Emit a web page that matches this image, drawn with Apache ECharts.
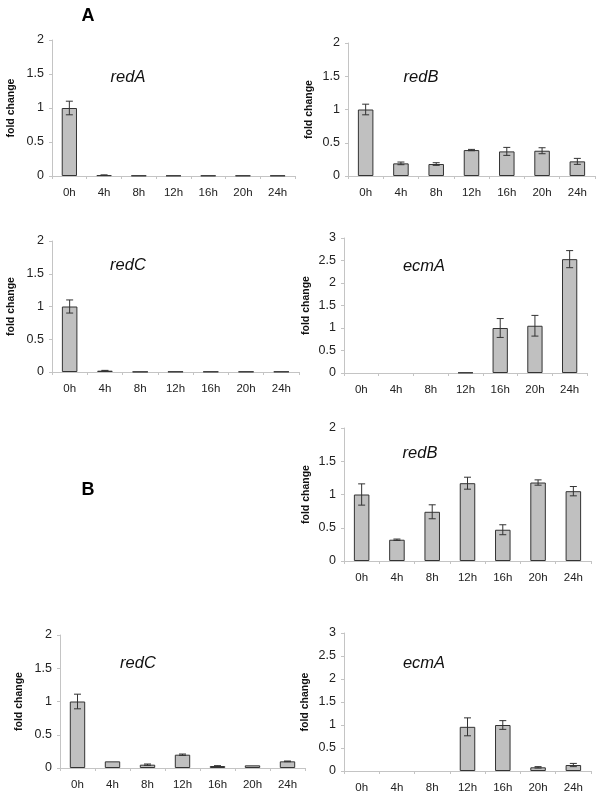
<!DOCTYPE html>
<html>
<head>
<meta charset="utf-8">
<script src="https://cdn.jsdelivr.net/npm/echarts@6/dist/echarts.min.js"></script>
<style>
html,body{margin:0;padding:0;background:#fff;}
#main{width:600px;height:806px;}
</style>
</head>
<body>
<div id="main"></div>
<script>
const categories = ['0h', '4h', '8h', '12h', '16h', '20h', '24h'];

// Panel A
const redA_A = [1.0, 0.012, 0.006, 0.006, 0.006, 0.006, 0.006];
const redA_A_err = [0.1, 0.005, 0, 0, 0, 0, 0];
const redB_A = [1.0, 0.19, 0.18, 0.39, 0.37, 0.38, 0.22];
const redB_A_err = [0.08, 0.02, 0.02, 0.01, 0.06, 0.045, 0.045];
const redC_A = [1.0, 0.02, 0.004, 0.006, 0.006, 0.006, 0.006];
const redC_A_err = [0.1, 0.005, 0, 0, 0, 0, 0];
const ecmA_A = [0, 0, 0, 0.01, 1.0, 1.05, 2.53];
const ecmA_A_err = [0, 0, 0, 0, 0.21, 0.23, 0.19];

// Panel B
const redB_B = [1.0, 0.32, 0.74, 1.17, 0.47, 1.18, 1.05];
const redB_B_err = [0.16, 0.01, 0.105, 0.09, 0.075, 0.04, 0.07];
const redC_B = [1.0, 0.1, 0.05, 0.2, 0.03, 0.04, 0.1];
const redC_B_err = [0.11, 0, 0.01, 0.01, 0.005, 0, 0.005];
const ecmA_B = [0, 0, 0, 0.96, 1.0, 0.08, 0.13];
const ecmA_B_err = [0, 0, 0, 0.195, 0.095, 0.015, 0.035];

const panels = [
  {name: 'redA', values: redA_A, err: redA_A_err, max: 2, grid: {left: 52, top: 40, width: 243, height: 136}, title: [128, 77], nameGap: 35},
  {name: 'redB', values: redB_A, err: redB_A_err, max: 2, grid: {left: 348, top: 43, width: 247, height: 133}, title: [421, 77], nameGap: 33},
  {name: 'redC', values: redC_A, err: redC_A_err, max: 2, grid: {left: 52, top: 241, width: 247, height: 131}, title: [128, 265], nameGap: 35},
  {name: 'ecmA', values: ecmA_A, err: ecmA_A_err, max: 3, grid: {left: 344, top: 238, width: 243, height: 135}, title: [424, 266], nameGap: 32},
  {name: 'redB', values: redB_B, err: redB_B_err, max: 2, grid: {left: 344, top: 428, width: 247, height: 133}, title: [420, 453], nameGap: 32},
  {name: 'redC', values: redC_B, err: redC_B_err, max: 2, grid: {left: 60, top: 635, width: 245, height: 133}, title: [138, 663], nameGap: 35},
  {name: 'ecmA', values: ecmA_B, err: ecmA_B_err, max: 3, grid: {left: 344, top: 633, width: 247, height: 138}, title: [424, 663], nameGap: 33}
];

const FONT = 'Liberation Sans, Arial, sans-serif';
const axisGrey = '#c4c4c4';

const grids = [], xAxes = [], yAxes = [], series = [], graphics = [];
panels.forEach((p, i) => {
  grids.push(Object.assign({containLabel: false}, p.grid));
  xAxes.push({
    type: 'category', gridIndex: i, data: categories, boundaryGap: true,
    axisLine: {lineStyle: {color: axisGrey, width: 1}},
    axisTick: {show: true, alignWithLabel: false, length: 3, lineStyle: {color: axisGrey}},
    axisLabel: {color: '#222', fontFamily: FONT, fontSize: 11.5, margin: 11},
    splitLine: {show: false}
  });
  yAxes.push({
    type: 'value', gridIndex: i, min: 0, max: p.max, interval: 0.5,
    name: 'fold change', nameLocation: 'middle', nameGap: p.nameGap, nameRotate: 90,
    nameTextStyle: {color: '#111', fontFamily: FONT, fontSize: 10.5, fontWeight: 'bold'},
    axisLine: {show: true, lineStyle: {color: axisGrey, width: 1}},
    axisTick: {show: true, length: 3, lineStyle: {color: axisGrey}},
    axisLabel: {color: '#222', fontFamily: FONT, fontSize: 12.5, margin: 8},
    splitLine: {show: false}
  });
  series.push({
    type: 'bar', xAxisIndex: i, yAxisIndex: i, z: 2,
    data: p.values.map(v => (v === 0 ? '-' : v)), barWidth: '44%',
    itemStyle: {color: '#c0c0c0', borderColor: '#333', borderWidth: 1},
    silent: true, animation: false
  });
  series.push({
    type: 'custom', xAxisIndex: i, yAxisIndex: i, silent: true, animation: false, z: 10,
    data: p.values.map((v, k) => [k, v, p.err[k]]),
    renderItem: function (params, api) {
      const k = api.value(0), v = api.value(1), e = api.value(2);
      if (!e) return null;
      const hi = api.coord([k, v + e]);
      const lo = api.coord([k, Math.max(0, v - e)]);
      const half = 3.5;
      const st = {stroke: '#333', lineWidth: 1};
      return {
        type: 'group',
        children: [
          {type: 'line', z2: 10, shape: {x1: hi[0], y1: hi[1], x2: lo[0], y2: lo[1]}, style: st},
          {type: 'line', z2: 10, shape: {x1: hi[0] - half, y1: hi[1], x2: hi[0] + half, y2: hi[1]}, style: st},
          {type: 'line', z2: 10, shape: {x1: lo[0] - half, y1: lo[1], x2: lo[0] + half, y2: lo[1]}, style: st}
        ]
      };
    }
  });
  graphics.push({
    type: 'text', x: p.title[0], y: p.title[1],
    style: {text: p.name, fontFamily: FONT, fontSize: 16.5, fontStyle: 'italic', fill: '#111', align: 'center', verticalAlign: 'middle'}
  });
});

graphics.push({type: 'text', x: 88, y: 16, style: {text: 'A', fontFamily: FONT, fontSize: 18, fontWeight: 'bold', fill: '#000', align: 'center', verticalAlign: 'middle'}});
graphics.push({type: 'text', x: 88, y: 490, style: {text: 'B', fontFamily: FONT, fontSize: 18, fontWeight: 'bold', fill: '#000', align: 'center', verticalAlign: 'middle'}});

const chart = echarts.init(document.getElementById('main'), null, {renderer: 'canvas'});
chart.setOption({
  backgroundColor: '#fff',
  animation: false,
  grid: grids,
  xAxis: xAxes,
  yAxis: yAxes,
  series: series,
  graphic: graphics
});
</script>
</body>
</html>
